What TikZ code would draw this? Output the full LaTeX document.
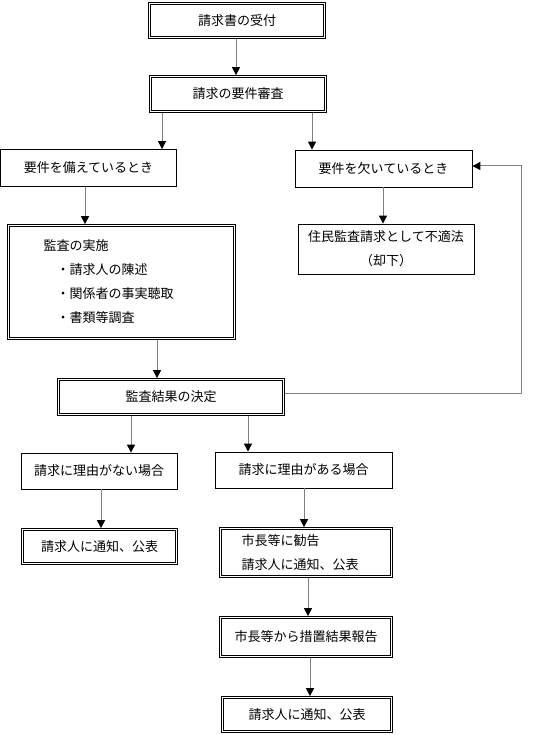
\documentclass[tikz,border=0pt]{standalone}
\usepackage{fontspec}
\setmainfont{Noto Sans CJK JP}
\usetikzlibrary{arrows.meta}

\begin{document}
\begin{tikzpicture}[x=1pt,y=-1pt]
\tikzstyle{every node}+=[font=\fontsize{13}{24}\selectfont]
\tikzstyle{box}=[draw=black, line width=0.8pt, inner sep=0pt, align=center]
\tikzstyle{dbox}=[box, line width=0.7pt]
\tikzstyle{arr}=[draw=gray, line width=1pt, -{Triangle[length=8pt,width=8pt,color=black]}]
\useasboundingbox (0,0) rectangle (550,735);
\node [dbox, minimum width=177, minimum height=36] (receipt) at (237,20.5) {請求書の受付};
\node [dbox, minimum width=177, minimum height=37] (review) at (238,94) {請求の要件審査};
\node [box, minimum width=176, minimum height=37] (meet) at (88.5,168) {要件を備えているとき};
\node [box, minimum width=177, minimum height=37] (lack) at (383.5,168.5) {要件を欠いているとき};
\node [dbox, minimum width=228, minimum height=115, align=left, text width=156, inner xsep=36] (audit) at (121.5,282) {監査の実施\\\hspace*{1em}・請求人の陳述\\\hspace*{1em}・関係者の事実聴取\\\hspace*{1em}・書類等調査};
\node [box, minimum width=176, minimum height=50] (improper) at (386,249) {住民監査請求として不適法\\（却下）};
\node [dbox, minimum width=227, minimum height=37] (decide) at (171,397) {監査結果の決定};
\node [box, minimum width=156, minimum height=36] (noreason) at (99,471) {請求に理由がない場合};
\node [box, minimum width=177, minimum height=36] (reason) at (303.5,470) {請求に理由がある場合};
\node [dbox, minimum width=156, minimum height=36] (notifyA) at (99.5,546.5) {請求人に通知、公表};
\node [dbox, minimum width=173, minimum height=50, align=left, text width=129, inner xsep=22] (advise) at (306,552.5) {市長等に勧告\\請求人に通知、公表};
\node [dbox, minimum width=173, minimum height=41] (report) at (306,637) {市長等から措置結果報告};
\node [dbox, minimum width=171, minimum height=36] (notifyB) at (307,714.5) {請求人に通知、公表};
\foreach \n in {receipt,review,audit,decide,notifyA,advise,report,notifyB}
  \draw [line width=0.7pt] ([shift={(2.2pt,-2.2pt)}]\n.north west) rectangle ([shift={(-2.2pt,2.2pt)}]\n.south east);
\coordinate (turn) at (521,166);
\draw [arr] (receipt.south -| 236,0) -- (review.north -| 236,0);
\draw [arr] (review.south -| 162,0) -- (meet.north -| 162,0);
\draw [arr] (review.south -| 312,0) -- (lack.north -| 312,0);
\draw [arr] (meet.south -| 85,0) -- (audit.north -| 85,0);
\draw [arr] (lack.south -| 383,0) -- (improper.north -| 383,0);
\draw [arr] (audit.south -| 157,0) -- (decide.north -| 157,0);
\draw [arr] ([yshift=4pt]decide.east) -| (turn) -- (lack.east |- turn);
\draw [arr] (decide.south -| 131,0) -- (noreason.north -| 131,0);
\draw [arr] (decide.south -| 248,0) -- (reason.north -| 248,0);
\draw [arr] (noreason.south -| 101,0) -- (notifyA.north -| 101,0);
\draw [arr] (reason.south -| 304,0) -- (advise.north -| 304,0);
\draw [arr] (advise.south -| 308,0) -- (report.north -| 308,0);
\draw [arr] (report.south -| 310,0) -- (notifyB.north -| 310,0);
\end{tikzpicture}
\end{document}
